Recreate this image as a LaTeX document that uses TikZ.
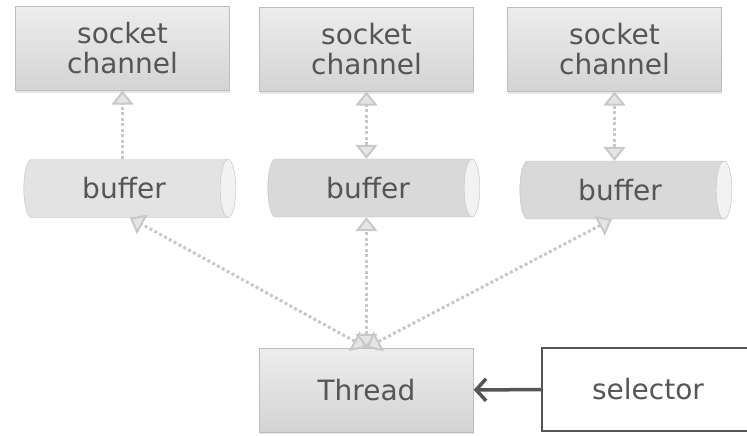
\documentclass[tikz,border=0pt]{standalone}
\usepackage{fontspec}
\setmainfont{DejaVu Sans}
\usetikzlibrary{arrows.meta}
\usetikzlibrary{shapes}
\usetikzlibrary{shadows}
\definecolor{labelgray}{HTML}{555555}
\definecolor{linkgray}{HTML}{C8C8C8}
\definecolor{boxedge}{HTML}{BDBDBD}
\tikzset{
chan/.style={
  align=center,
  draw=boxedge,
  top color=black!7,
  bottom color=black!17,
  minimum width=214pt,
  minimum height=84pt,
  drop shadow={shadow xshift=0.5pt,shadow yshift=-2pt,opacity=0.2}
  }
}
\tikzset{
buf/.style={
  cylinder,
  draw=boxedge,
  aspect=0.55,
  cylinder uses custom fill,
  cylinder end fill=black!5,
  cylinder body fill=black!15,
  minimum width=58pt,
  minimum height=212pt
  }
}
\tikzset{
sel/.style={
  draw=labelgray,
  line width=1.2pt,
  fill=white,
  minimum width=212pt,
  minimum height=83pt
  }
}
\tikzstyle{link} = [draw=linkgray,line width=3pt,dash pattern=on 3pt off 2.5pt]
\tikzstyle{pull} = [draw=labelgray,line width=3.5pt,-{Straight Barb[length=10pt,width=22pt]}]
\tikzset{%
    boundingBox/.style={use as bounding box},
    }

\begin{document}
\begin{tikzpicture}[x=1pt, y=-1pt, font=\fontsize{28}{30}\selectfont, text=labelgray,
  >={Triangle[length=14pt,width=22pt,line width=2pt,fill=black!10]}]
        \path[boundingBox] (0,0) rectangle (747,436);
		%vertices
		\node (sc1) at (122.5, 48.5) [chan] {socket\\channel};
		\node (sc2) at (366.5, 49.5) [chan] {socket\\channel};
		\node (sc3) at (614.5, 49.5) [chan] {socket\\channel};

		\node (buf1) at (124, 188.5) [buf, cylinder body fill=black!11] {buffer};
		\node (buf2) at (368, 188) [buf] {buffer};
		\node (buf3) at (620, 190) [buf] {buffer};

		\node (thread) at (366.5, 390) [chan] {Thread};
		\node (selector) at (648, 389.5) [sel] {selector};

		%edges
		\draw[link, ->] (buf1.north -| sc1) -- (sc1.south);
		\draw[link, <->] (buf2.north -| sc2) -- (sc2.south);
		\draw[link, <->] (buf3.north -| sc3) -- (sc3.south);

		\draw[link, <->] (thread.north) -- ([xshift=6pt]buf1.south);
		\draw[link, <->] (thread.north) -- (buf2.south -| thread);
		\draw[link, <->] (thread.north) -- ([xshift=-8pt]buf3.south);

		\draw[pull] (selector) -- (thread);
\end{tikzpicture}
\end{document}
